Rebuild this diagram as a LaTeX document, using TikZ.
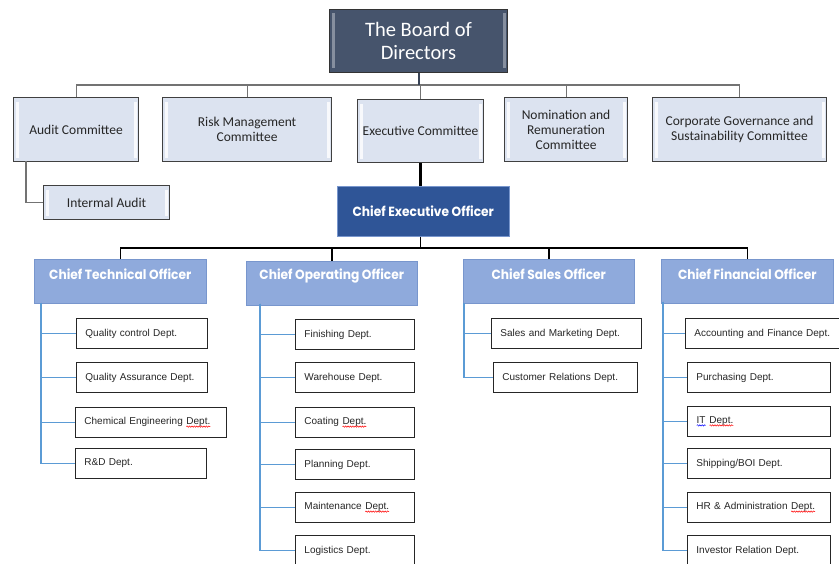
\documentclass[tikz,border=0pt]{standalone}
\usepackage{fontspec}
\setmainfont{Carlito}
\newfontfamily\deptfont{Liberation Sans}
\newfontfamily\officerfont[FakeStretch=0.92]{Poppins}
\usetikzlibrary{decorations.pathmorphing}

\definecolor{boardfill}{RGB}{70,84,108}
\definecolor{commfill}{RGB}{220,227,240}
\definecolor{ceofill}{RGB}{47,85,151}
\definecolor{chieffill}{RGB}{143,170,220}
\definecolor{chiefedge}{RGB}{120,150,205}
\definecolor{deptline}{RGB}{91,155,213}

% spell-check underline inside a label
\newcommand{\squiggle}[2]{\tikz[baseline=(sq.base)]{\node[rectangle,draw=none,fill=none,inner sep=0pt,outer sep=0pt,minimum width=0pt,minimum height=0pt,text width={},anchor=base] (sq) {#2};
  \draw[#1,line width=0.5pt,decorate,decoration={snake,amplitude=0.7pt,segment length=2.4pt}] ([yshift=-2pt]sq.base west) -- ([yshift=-2pt]sq.base east);}}

\tikzset{
  bevel/.style={path picture={
    \fill[white,opacity=#1] ([xshift=2pt,yshift=-4pt]path picture bounding box.north west) rectangle ([xshift=5pt,yshift=4pt]path picture bounding box.south west);
    \fill[white,opacity=#1] ([xshift=-5pt,yshift=-4pt]path picture bounding box.north east) rectangle ([xshift=-2pt,yshift=4pt]path picture bounding box.south east);}},
  board/.style={draw=black!80, line width=1pt, fill=boardfill, bevel=0.35, anchor=north west,
    text=white, align=center, font=\fontsize{20.5}{23}\selectfont},
  committee/.style={draw=black!75, line width=1.1pt, fill=commfill, bevel=0.8, anchor=north west,
    align=center, text=black!85, font=\fontsize{13.5}{15}\selectfont},
  ceo/.style={draw=chiefedge, line width=0.6pt, fill=ceofill, anchor=north west,
    text=white, font=\officerfont\bfseries\fontsize{13.3}{15}\selectfont},
  chief/.style={draw=chiefedge, line width=0.6pt, fill=chieffill, anchor=north west,
    minimum height=44},
  chieflabel/.style={anchor=center, yshift=-15pt, text=white, font=\officerfont\bfseries\fontsize{13.3}{15}\selectfont},
  dept/.style={draw=black!85, line width=0.9pt, fill=white, anchor=north west, minimum height=30,
    inner xsep=9pt, align=left, text=black!85, font=\deptfont\fontsize{10}{12}\selectfont},
  topline/.style={draw=black!55, line width=1.1pt},
  boardline/.style={draw=boardfill!80!black, line width=2pt},
  ceoline/.style={draw=black, line width=1.6pt},
  subline/.style={draw=deptline, line width=1.2pt},
}

\begin{document}
\begin{tikzpicture}[x=1pt, y=-1pt]
    \useasboundingbox (0,0) rectangle (839,564);
    \clip (0,0) rectangle (839,564);
    % board and committees
    \node[board, minimum width=178, minimum height=63] (board) at (329,9) {The Board of\\Directors};
    \node[committee, minimum width=125, minimum height=64] (audit) at (13,97) {Audit Committee};
    \node[committee, minimum width=169, minimum height=64] (risk) at (162,97) {Risk Management\\Committee};
    \node[committee, minimum width=126, minimum height=63] (exec) at (357,99) {Executive Committee};
    \node[committee, minimum width=123, minimum height=64] (nomin) at (504,97) {Nomination and\\Remuneration\\Committee};
    \node[committee, minimum width=174, minimum height=64] (corp) at (652,97) {Corporate Governance and\\Sustainability Committee};
    \node[committee, minimum width=126, minimum height=34] (intaudit) at (43,185) {Intermal Audit};
    \coordinate (topbar) at (0,85);
    \coordinate (auditline) at (26,161);
    \draw[topline] (audit.north) -- (audit.north |- topbar) -- (corp.north |- topbar) -- (corp.north);
    \draw[topline] (risk.north) -- (risk.north |- topbar);
    \draw[topline] (nomin.north) -- (nomin.north |- topbar);
    \draw[topline] (exec.north) -- (exec.north |- topbar);
    \draw[boardline] (board.south) -- (board.south |- topbar);
    \draw[topline] (auditline) |- (intaudit.west);
    % officers
    \node[ceo, minimum width=172, minimum height=50] (ceo) at (337,186) {Chief Executive Officer};
    \draw[ceoline, line width=2.5pt] (exec.south) -- (exec.south |- ceo.north);
    \node[chief, minimum width=172, label={[chieflabel]north:Chief Technical Officer}] (cto) at (34,259) {};
    \node[chief, minimum width=171, label={[chieflabel]north:Chief Operating Officer}] (coo) at (246,261) {};
    \node[chief, minimum width=171, label={[chieflabel]north:Chief Sales Officer}] (cso) at (463,259) {};
    \node[chief, minimum width=172, label={[chieflabel]north:Chief Financial Officer}] (cfo) at (661,259) {};
    \coordinate (ceobar) at (0,248);
    \draw[ceoline] (exec.south |- ceo.south) -- (exec.south |- ceobar);
    \draw[ceoline] (cto.north) -- (cto.north |- ceobar) -- (cfo.north |- ceobar) -- (cfo.north);
    \draw[ceoline] (coo.north) -- (coo.north |- ceobar);
    \draw[ceoline] (cso.north) -- (cso.north |- ceobar);
    % technical
    \node[dept, text width=113] (qc) at (76,318) {Quality control Dept.};
    \node[dept, text width=113] (qa) at (76,362) {Quality Assurance Dept.};
    \node[dept, text width=133] (chem) at (75,407) {Chemical Engineering \squiggle{red}{Dept.}};
    \node[dept, text width=113] (rnd) at (75,448) {R\&D Dept.};
    \coordinate (ctoline) at (41,303);
    \draw[subline] (ctoline) |- (qc.west);
    \draw[subline] (ctoline) |- (qa.west);
    \draw[subline] (ctoline) |- (chem.west);
    \draw[subline] (ctoline) |- (rnd.west);
    % operating
    \node[dept, text width=101] (finish) at (295,319) {Finishing Dept.};
    \node[dept, text width=101] (whouse) at (295,362) {Warehouse Dept.};
    \node[dept, text width=101] (coat) at (295,407) {Coating \squiggle{red}{Dept.}};
    \node[dept, text width=101] (plan) at (295,449) {Planning Dept.};
    \node[dept, text width=101] (maint) at (295,492) {Maintenance \squiggle{red}{Dept.}};
    \node[dept, text width=101] (logist) at (295,535) {Logistics Dept.};
    \coordinate (cooline) at (260,304);
    \draw[subline] (cooline) |- (finish.west);
    \draw[subline] (cooline) |- (whouse.west);
    \draw[subline] (cooline) |- (coat.west);
    \draw[subline] (cooline) |- (plan.west);
    \draw[subline] (cooline) |- (maint.west);
    \draw[subline] (cooline) |- (logist.west);
    % sales
    \node[dept, text width=132] (sales) at (491,318) {Sales and Marketing Dept.};
    \node[dept, text width=126] (custrel) at (493,362) {Customer Relations Dept.};
    \coordinate (csoline) at (464,303);
    \draw[subline] (csoline) |- (sales.west);
    \draw[subline] (csoline) |- (custrel.west);
    % financial
    \node[dept, text width=139] (acct) at (685,318) {Accounting and Finance Dept.};
    \node[dept, text width=125] (purch) at (687,362) {Purchasing Dept.};
    \node[dept, text width=125] (itdept) at (687,406) {\squiggle{blue}{IT} \squiggle{red}{Dept.}};
    \node[dept, text width=125] (ship) at (687,448) {Shipping/BOI Dept.};
    \node[dept, text width=125] (hradmin) at (687,492) {HR \& Administration \squiggle{red}{Dept.}};
    \node[dept, text width=125] (investor) at (687,535) {Investor Relation Dept.};
    \coordinate (cfoline) at (663,302);
    \draw[subline] (cfoline) |- (acct.west);
    \draw[subline] (cfoline) |- (purch.west);
    \draw[subline] (cfoline) |- (itdept.west);
    \draw[subline] (cfoline) |- (ship.west);
    \draw[subline] (cfoline) |- (hradmin.west);
    \draw[subline] (cfoline) |- (investor.west);
\end{tikzpicture}
\end{document}
